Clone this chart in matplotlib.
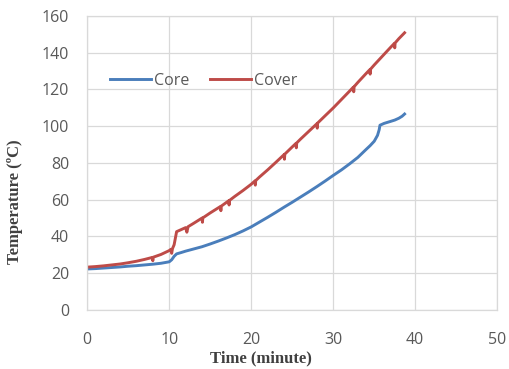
import matplotlib.pyplot as plt

# readings taken off the reference chart
core_t = [0, 1, 2, 3, 4, 5, 6, 7, 8, 9, 10, 10.3, 10.6, 10.9, 11.5, 12, 13, 14, 15, 16,
          17, 18, 19, 20, 21, 22, 23, 24, 25, 26, 27, 28, 29, 30, 31, 32, 33, 34, 34.5,
          35, 35.4, 35.6, 35.7, 36.2, 37, 37.5, 38, 38.4, 38.7]
core_v = [22.3, 22.5, 22.8, 23.1, 23.4, 23.8, 24.1, 24.5, 24.9, 25.4, 26.2, 27.3, 29.2,
          30.5, 31.3, 32.0, 33.2, 34.4, 35.9, 37.5, 39.2, 41.0, 43.0, 45.2, 47.8, 50.4,
          53.1, 55.9, 58.6, 61.4, 64.2, 67.1, 70.1, 73.2, 76.2, 79.5, 83.0, 87.3, 89.4,
          91.8, 95.0, 98.0, 100.5, 101.5, 102.6, 103.3, 104.3, 105.4, 106.6]

cover_t = [0, 1, 2, 3, 4, 5, 6, 7, 7.95, 8.0, 8.05, 9, 10, 10.2, 10.3, 10.4, 10.6,
           10.9, 12.0, 12.15, 12.3, 13, 14, 14.05, 14.1, 15, 16, 16.25, 16.3, 16.35,
           17, 17.25, 17.3, 17.35, 18, 19, 20, 20.45, 20.5, 20.55, 21, 22, 23, 24,
           24.05, 24.1, 25, 25.45, 25.5, 25.55, 26, 27, 28, 28.05, 28.1, 29, 30, 31,
           32, 32.45, 32.5, 32.55, 33, 34, 34.45, 34.5, 34.55, 35, 36, 37, 37.45, 37.5,
           37.55, 38, 38.7]
cover_v = [23.3, 23.6, 24.0, 24.5, 25.0, 25.7, 26.5, 27.5, 28.6, 26.8, 28.7, 30.2, 32.3,
           33.0, 30.8, 33.4, 35.5, 42.6, 44.8, 42.3, 45.3, 47.2, 50.0, 47.7, 50.1,
           52.8, 55.6, 56.3, 54.0, 56.5, 58.6, 59.4, 57.1, 59.6, 61.8, 65.0, 68.4,
           70.2, 67.9, 70.4, 72.3, 76.2, 80.3, 84.5, 82.0, 84.8, 88.7, 90.6, 88.2,
           90.9, 92.9, 97.1, 101.3, 98.9, 101.7, 105.6, 109.9, 114.5, 119.1, 121.2,
           118.7, 121.5, 123.8, 128.6, 130.7, 128.3, 131.0, 133.3, 138.1, 142.9, 145.0,
           142.6, 145.3, 147.6, 150.8]

fig = plt.figure(figsize=(5.1, 3.69), dpi=100)
ax = fig.add_axes([0.171, 0.160, 0.804, 0.797])

ax.plot(core_t, core_v, color='#4A7EBB', lw=2.1, label='Core')
ax.plot(cover_t, cover_v, color='#BE4B48', lw=2.1, label='Cover')

ax.set_xlim(0, 50)
ax.set_ylim(0, 160)
ax.set_xticks(range(0, 51, 10))
ax.set_yticks(range(0, 161, 20))
ax.grid(color='#D9D9D9', lw=0.9)
ax.set_axisbelow(True)
for s in ax.spines.values():
    s.set_color('#D9D9D9')
    s.set_linewidth(0.9)
ax.tick_params(length=0, labelsize=11.5, labelcolor='#595959')
ax.tick_params(axis='x', pad=16)
ax.tick_params(axis='y', pad=13)
for lab in ax.get_xticklabels() + ax.get_yticklabels():
    lab.set_family('Open Sans')

# axis titles sit centred on the chart area, not on the plot area
ax.set_xlabel('Time (minute)', family='Liberation Serif', fontweight='bold',
              fontsize=12, color='#404040')
ax.set_ylabel('Temperature (ºC)', family='Liberation Serif', fontweight='bold',
              fontsize=12, color='#404040')
ax.xaxis.set_label_coords(0.424, -0.137)
ax.yaxis.set_label_coords(-0.156, 0.367)

leg = ax.legend(loc='upper left', bbox_to_anchor=(0.02, 0.855), ncol=2, frameon=False,
                handlelength=2.6, handletextpad=0.15, columnspacing=1.3,
                prop={'family': 'Open Sans', 'size': 11.5})
for t in leg.get_texts():
    t.set_color('#595959')

fig.savefig('out.png', dpi=100)
